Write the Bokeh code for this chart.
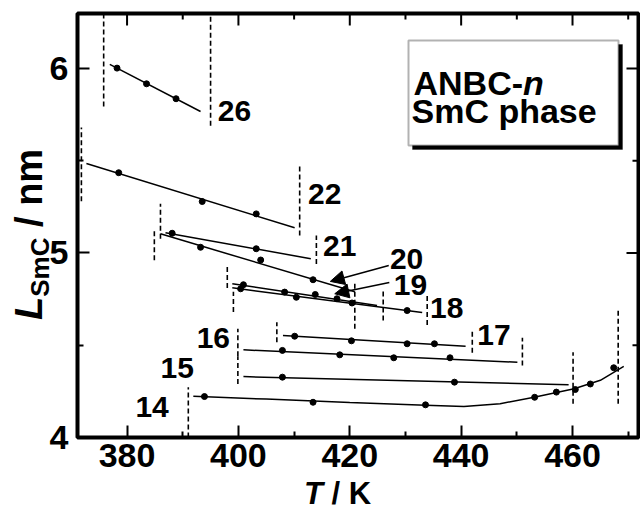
from bokeh.plotting import figure
from bokeh.models import (Range1d, FixedTicker, Label, Arrow, NormalHead,
                          BoxAnnotation, ColumnDataSource, Div, GridBox)
from bokeh.core.properties import value
from bokeh.embed import file_html
from bokeh.resources import INLINE

# ---------------- data ----------------
series = ["26", "22", "21", "20", "19", "18", "17", "16", "15", "14"]

# measured points (T / K, L / nm)
s26_T = [378.2, 383.5, 388.8];            s26_L = [6.002, 5.917, 5.836]
s22_T = [378.5, 393.5, 403.2];            s22_L = [5.435, 5.279, 5.212]
s21_T = [388.1, 403.2];                   s21_L = [5.107, 5.023]
s20_T = [393.2, 404.0, 413.4];            s20_L = [5.031, 4.962, 4.855]
s19_T = [400.9, 408.3, 413.8, 417.7];     s19_L = [4.828, 4.788, 4.775, 4.752]
s18_T = [400.4, 410.4, 420.4, 430.3];     s18_L = [4.806, 4.760, 4.729, 4.688]
s17_T = [410.1, 420.3, 430.3, 435.2];     s17_L = [4.549, 4.524, 4.508, 4.508]
s16_T = [407.9, 418.2, 427.9, 438.0];     s16_L = [4.472, 4.448, 4.432, 4.432]
s15_T = [407.9, 438.8];                   s15_L = [4.327, 4.300]
s14_T = [393.9, 413.4, 433.6, 453.2, 457.1, 460.5, 463.2, 467.4]
s14_L = [4.222, 4.191, 4.177, 4.218, 4.246, 4.260, 4.290, 4.378]

# fitted lines (as drawn in the picture)
f26_T = [376.9, 393.2];  f26_L = [6.022, 5.767]
f22_T = [372.7, 410.1];  f22_L = [5.485, 5.137]
f21_T = [386.9, 413.0];  f21_L = [5.110, 4.969]
f20_T = [386.0, 420.9];  f20_L = [5.104, 4.790]
f19_T = [398.9, 424.9];  f19_L = [4.833, 4.716]
f18_T = [398.9, 433.0];  f18_L = [4.811, 4.677]
f17_T = [408.0, 440.8];  f17_L = [4.553, 4.495]
f16_T = [400.9, 450.1];  f16_L = [4.475, 4.408]
f15_T = [400.9, 459.3];  f15_L = [4.330, 4.286]
f14_T = [391.9, 405.0, 420.0, 433.6, 440.5, 447.0, 453.1, 460.3, 465.0, 469.2]
f14_L = [4.224, 4.208, 4.190, 4.175, 4.168, 4.183, 4.218, 4.264, 4.310, 4.385]

# phase-transition temperatures (dashed markers): T, L from, L to
tr_T  = [375.8, 395.0, 371.8, 411.0, 386.0, 414.0, 384.9, 420.9, 398.0, 426.0,
         399.1, 433.9, 406.9, 442.0, 399.9, 451.0, 399.9, 460.1, 391.0, 468.2]
tr_L0 = [5.794, 5.690, 5.280, 5.095, 5.077, 4.941, 4.960, 4.590, 4.810, 4.634,
         4.680, 4.610, 4.516, 4.460, 4.440, 4.390, 4.290, 4.183, 4.000, 4.183]
tr_L1 = [6.300, 6.300, 5.680, 5.474, 5.267, 5.095, 5.133, 4.840, 4.930, 4.808,
         4.790, 4.770, 4.625, 4.580, 4.590, 4.540, 4.440, 4.462, 4.273, 4.688]

# series-number labels (centre positions)
lab_T = [399.3, 415.5, 418.2, 430.2, 430.9, 437.4, 445.9, 395.5, 389.0, 384.5]
lab_L = [5.770, 5.320, 5.040, 4.965, 4.826, 4.700, 4.553, 4.537, 4.374, 4.164]

# arrows for 20 and 19: start (T, L) -> end (T, L)
arr_T0 = [427.0, 427.1]; arr_L0 = [4.932, 4.840]
arr_T1 = [416.5, 417.3]; arr_L1 = [4.846, 4.779]

x_major = [380, 400, 420, 440, 460]
x_minor = [390, 410, 430, 450, 470]
y_major = [4, 5, 6]
y_minor = [4.5, 5.5]

X0, X1 = 371.1, 471.85
Y0, Y1 = 4.0, 6.298

# ---------------- figure ----------------
FONT = "Liberation Sans"
p = figure(width=640, height=512, output_backend="svg", toolbar_location=None,
           x_range=Range1d(X0, X1), y_range=Range1d(Y0, Y1),
           min_border_left=77, min_border_right=2, min_border_top=13,
           min_border_bottom=75, margin=0)
p.xgrid.visible = False
p.ygrid.visible = False
p.outline_line_color = "black"
p.outline_line_width = 4
p.background_fill_color = "white"
p.border_fill_color = "white"

# pixel helpers (canvas pixels -> data)
FL, FT, FW, FH = 77, 13, 561, 424
def pxT(px):
    return X0 + (px - FL) * (X1 - X0) / FW
def pyL(py):
    return Y0 + (FT + FH - py) * (Y1 - Y0) / FH

for ax, ticks in ((p.xaxis[0], (x_major, x_minor)), (p.yaxis[0], (y_major, y_minor))):
    ax.ticker = FixedTicker(ticks=ticks[0], minor_ticks=ticks[1])
    ax.axis_line_color = None
    ax.major_tick_in = 12
    ax.major_tick_out = 0
    ax.minor_tick_in = 6
    ax.minor_tick_out = 0
    ax.major_tick_line_width = 2
    ax.minor_tick_line_width = 2
    ax.major_tick_line_color = "black"
    ax.minor_tick_line_color = "black"
    ax.major_label_text_font = FONT
    ax.major_label_text_font_style = "bold"
    ax.major_label_text_font_size = "34px"
    ax.major_label_text_color = "black"
p.xaxis.major_label_standoff = 6
p.yaxis.major_label_standoff = 9

# mirrored ticks on the top and right edges of the frame
kx = (X1 - X0) / FW
ky = (Y1 - Y0) / FH
p.segment(x0=x_major, x1=x_major, y0=[Y1] * len(x_major), y1=[Y1 - 12 * ky] * len(x_major),
          line_color="black", line_width=2)
p.segment(x0=x_minor, x1=x_minor, y0=[Y1] * len(x_minor), y1=[Y1 - 6 * ky] * len(x_minor),
          line_color="black", line_width=2)
p.segment(x0=[X1] * len(y_major), x1=[X1 - 12 * kx] * len(y_major), y0=y_major, y1=y_major,
          line_color="black", line_width=2)
p.segment(x0=[X1] * len(y_minor), x1=[X1 - 6 * kx] * len(y_minor), y0=y_minor, y1=y_minor,
          line_color="black", line_width=2)

# dashed transition markers
p.segment(x0=tr_T, y0=tr_L0, x1=tr_T, y1=tr_L1, line_color="black",
          line_width=1.6, line_dash="5 3")

# fitted lines and points
fits = [(f26_T, f26_L), (f22_T, f22_L), (f21_T, f21_L), (f20_T, f20_L),
        (f19_T, f19_L), (f18_T, f18_L), (f17_T, f17_L), (f16_T, f16_L),
        (f15_T, f15_L), (f14_T, f14_L)]
pts = [(s26_T, s26_L), (s22_T, s22_L), (s21_T, s21_L), (s20_T, s20_L),
       (s19_T, s19_L), (s18_T, s18_L), (s17_T, s17_L), (s16_T, s16_L),
       (s15_T, s15_L), (s14_T, s14_L)]
for (fx, fy) in fits:
    p.line(fx, fy, line_color="black", line_width=1.5)
for (sx, sy) in pts:
    p.scatter(sx, sy, size=6, marker="circle", fill_color="black", line_color="black")

# series numbers
src = ColumnDataSource(dict(x=lab_T, y=lab_L, t=series))
p.text(x="x", y="y", text="t", source=src, text_font=value(FONT),
       text_font_style="bold", text_font_size="30px", text_align="center",
       text_baseline="middle", text_color="black")

# arrows
for i in range(2):
    p.add_layout(Arrow(x_start=arr_T0[i], y_start=arr_L0[i], x_end=arr_T1[i], y_end=arr_L1[i],
                       line_color="black", line_width=1.5,
                       end=NormalHead(size=14, fill_color="black", line_color="black")))

# boxed caption with shadow
p.add_layout(BoxAnnotation(left=pxT(412), right=pxT(622), top=pyL(44), bottom=pyL(149),
                           fill_color="black", fill_alpha=1.0, line_color="black", line_width=1))
p.add_layout(BoxAnnotation(left=pxT(408), right=pxT(618), top=pyL(40), bottom=pyL(145),
                           fill_color="white", fill_alpha=1.0, line_color="black", line_width=2))

def lab(text, px, py, size, style="bold"):
    p.add_layout(Label(x=pxT(px), y=pyL(py), text=text, text_font=FONT,
                       text_font_style=style, text_font_size=size, text_color="black",
                       text_align="left", text_baseline="alphabetic"))

lab("ANBC-", 413, 82, "34px")
lab("n", 413 + 3.221 * 34, 82, "34px", "bold italic")
lab("SmC phase", 411, 110, "34px")

# ---------------- axis titles (HTML overlay on the same grid cell) ----------------
titles_html = (
    '<div style="position:relative; width:640px; height:512px; margin:0; padding:0; '
    "font-family:'Liberation Sans'; font-weight:bold; color:black;\">"
    # y title: L_SmC / nm, rotated to read upwards
    '<div style="position:absolute; left:10px; top:320px; margin:0; padding:0; '
    'white-space:nowrap; transform-origin:0 0; transform:rotate(-90deg); '
    'font-size:38px; line-height:38px;">'
    '<i>L</i><span style="font-size:26px; vertical-align:-7px;">SmC</span> / nm</div>'
    # x title: T / K
    '<div style="position:absolute; left:304px; top:478px; margin:0; padding:0; '
    'white-space:nowrap; font-size:31px; line-height:31px;">'
    '<i>T</i> / K</div>'
    '</div>'
)
titles = Div(text=titles_html, width=640, height=512, margin=0,
             styles={"overflow": "visible", "pointer-events": "none"})

layout = GridBox(children=[(p, 0, 0), (titles, 0, 0)], width=640, height=512, margin=0)

open("out.html", "w").write(file_html(layout, INLINE))
